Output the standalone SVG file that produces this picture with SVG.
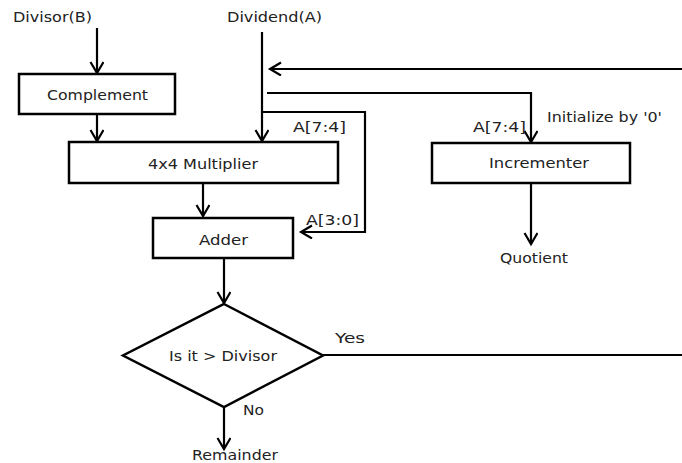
<svg xmlns="http://www.w3.org/2000/svg" width="682" height="463" viewBox="0 0 682 463">
<style>
.box{fill:#fff;stroke:#000;stroke-width:2.5}
.ln{fill:none;stroke:#000;stroke-width:2.2}
.t{font-family:"DejaVu Sans",Verdana,sans-serif;font-size:14px;fill:#222}
</style>
<defs>
<marker id="arr" markerUnits="userSpaceOnUse" markerWidth="16" markerHeight="16" refX="12" refY="7" orient="auto">
<path d="M1,0.5 L12,7 L1,13.5" fill="none" stroke="#000" stroke-width="2.2"/>
</marker>
</defs>
<rect width="682" height="463" fill="#fff"/>
<g id="connectors">
<path class="ln" d="M97,28 V73" marker-end="url(#arr)"/>
<path class="ln" d="M97,114 V141" marker-end="url(#arr)"/>
<path class="ln" d="M262,32 V141" marker-end="url(#arr)"/>
<path class="ln" d="M682,69 H270" marker-end="url(#arr)"/>
<path class="ln" d="M267,93 H531 V142" marker-end="url(#arr)"/>
<path class="ln" d="M262,112 H365 V232 H301" marker-end="url(#arr)"/>
<path class="ln" d="M203,183 V216" marker-end="url(#arr)"/>
<path class="ln" d="M224,259 V303" marker-end="url(#arr)"/>
<path class="ln" d="M224,407 V449" marker-end="url(#arr)"/>
<path class="ln" d="M323,355 H682"/>
<path class="ln" d="M531,183 V244" marker-end="url(#arr)"/>
</g>
<g id="labels">
<text class="t" x="13" y="22" textLength="79" lengthAdjust="spacingAndGlyphs">Divisor(B)</text>
<text class="t" x="227" y="22" textLength="95" lengthAdjust="spacingAndGlyphs">Dividend(A)</text>
<text class="t" x="293" y="132" textLength="53" lengthAdjust="spacingAndGlyphs">A[7:4]</text>
<text class="t" x="473" y="132" textLength="53" lengthAdjust="spacingAndGlyphs">A[7:4]</text>
<text class="t" x="547" y="122" textLength="115" lengthAdjust="spacingAndGlyphs">Initialize by '0'</text>
<text class="t" x="306" y="225" textLength="53" lengthAdjust="spacingAndGlyphs">A[3:0]</text>
<text class="t" x="500" y="263" textLength="68" lengthAdjust="spacingAndGlyphs">Quotient</text>
<text class="t" x="335" y="343" textLength="30" lengthAdjust="spacingAndGlyphs">Yes</text>
<text class="t" x="243" y="415" textLength="21" lengthAdjust="spacingAndGlyphs">No</text>
<text class="t" x="192" y="460" textLength="86" lengthAdjust="spacingAndGlyphs">Remainder</text>
</g>
<g id="complement">
<rect class="box" x="19" y="74" width="156" height="40"/>
<text class="t" x="47" y="100" textLength="101" lengthAdjust="spacingAndGlyphs">Complement</text>
</g>
<g id="multiplier">
<rect class="box" x="69" y="142" width="269" height="41"/>
<text class="t" x="148" y="169" textLength="110" lengthAdjust="spacingAndGlyphs">4x4 Multiplier</text>
</g>
<g id="adder">
<rect class="box" x="153" y="218" width="140" height="40"/>
<text class="t" x="199" y="245" textLength="49" lengthAdjust="spacingAndGlyphs">Adder</text>
</g>
<g id="incrementer">
<rect class="box" x="432" y="143" width="198" height="40"/>
<text class="t" x="489" y="168" textLength="100" lengthAdjust="spacingAndGlyphs">Incrementer</text>
</g>
<g id="decision">
<polygon class="box" points="224,304 323,355.5 224,407 123,355.5"/>
<text class="t" x="169" y="361" textLength="108" lengthAdjust="spacingAndGlyphs">Is it &gt; Divisor</text>
</g>
</svg>
